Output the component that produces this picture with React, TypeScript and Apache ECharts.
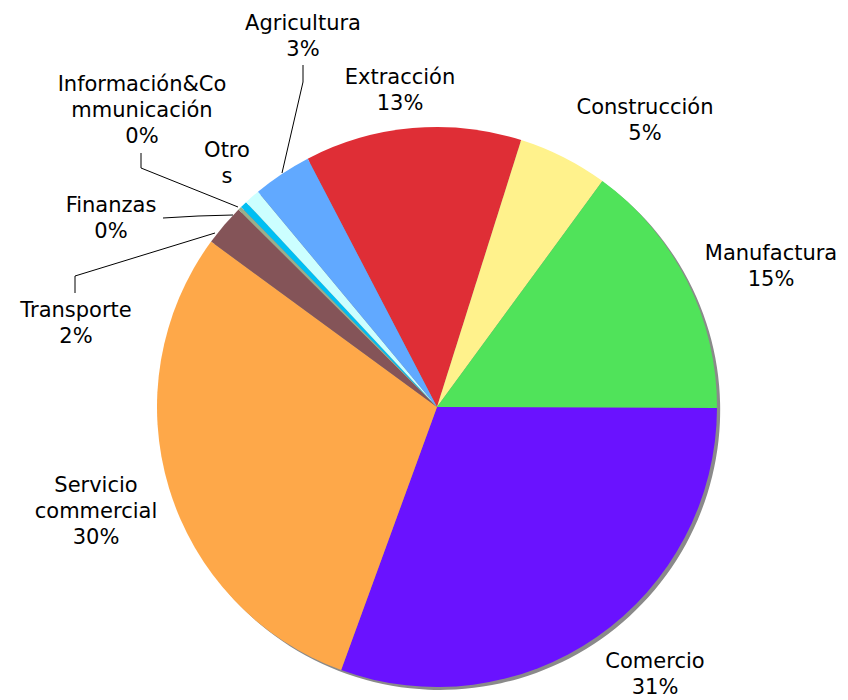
import React, { useEffect, useRef } from "react";
import * as echarts from "echarts";

const categories = [
  "Extracción",
  "Construcción",
  "Manufactura",
  "Comercio",
  "Servicio commercial",
  "Transporte",
  "Finanzas",
  "Información&Communicación",
  "Otros",
  "Agricultura",
];
const displayNames = [
  "Extracción",
  "Construcción",
  "Manufactura",
  "Comercio",
  "Servicio\ncommercial",
  "Transporte",
  "Finanzas",
  "Información&Co\nmmunicación",
  "Otro\ns",
  "Agricultura",
];
const values = [12.5, 5.2, 15.0, 30.5, 29.5, 2.4, 0.2, 0.4, 0.9, 3.4];
const showPercent = [true, true, true, true, true, true, true, true, false, true];

const colors = [
  "#DF2E36",
  "#FFF28C",
  "#50E35A",
  "#6A12FF",
  "#FEA849",
  "#845458",
  "#9AAE8A",
  "#00BFF3",
  "#CCFFFF",
  "#61A9FF",
];

// label layout (positions of label block centres, leader lines)
const labelPos: Record<string, [number, number]> = {
  "Extracción": [400, 90],
  "Construcción": [645, 120],
  "Manufactura": [771, 266],
  "Comercio": [655, 674],
  "Servicio commercial": [96, 511],
  "Transporte": [76, 323],
  "Finanzas": [111, 218],
  "Información&Communicación": [142, 110],
  "Otros": [227, 163],
  "Agricultura": [303, 36],
};
const leaderLines: Record<string, number[][]> = {
  "Transporte": [[215, 233], [75, 276], [75, 293]],
  "Finanzas": [[233, 215], [198, 216], [163, 218]],
  "Información&Communicación": [[238, 207], [141, 168], [141, 153]],
  "Agricultura": [[282, 173], [303, 82], [303, 65]],
};

export default function App() {
  const ref = useRef<HTMLDivElement>(null);
  useEffect(() => {
    if (!ref.current) return;
    const chart = echarts.init(ref.current, null, { renderer: "svg" });
    const total = Math.round(values.reduce((a, b) => a + b, 0) * 10) / 10;
    const data = categories.map((name, i) => ({
      name,
      value: values[i],
      itemStyle: { color: colors[i] },
      labelLine: { show: !!leaderLines[name] },
    }));
    chart.setOption({
      animation: false,
      backgroundColor: "#ffffff",
      series: [
        {
          type: "pie",
          name: "shadow",
          silent: true,
          z: 1,
          center: [440, 410],
          radius: 280,
          startAngle: 117.5,
          label: { show: false },
          labelLine: { show: false },
          data: [{ value: total, name: "", itemStyle: { color: "#8a8a8a" } }],
        },
        {
          type: "pie",
          z: 2,
          center: [437, 407],
          radius: 280,
          startAngle: 117.5,
          clockwise: true,
          avoidLabelOverlap: false,
          data,
          label: {
            show: true,
            position: "outside",
            fontFamily: "DejaVu Sans",
            fontSize: 21,
            lineHeight: 26,
            color: "#000000",
            align: "center",
            formatter: (p: any) => {
              const i = p.dataIndex;
              const pct = Math.round((values[i] * 100) / total);
              return showPercent[i] ? `${displayNames[i]}\n${pct}%` : displayNames[i];
            },
          },
          labelLine: {
            show: true,
            lineStyle: { color: "#000000", width: 1 },
            length: 10,
            length2: 10,
          },
          labelLayout: (params: any) => {
            const name = categories[params.dataIndex];
            const pos = labelPos[name];
            const res: any = {
              x: pos[0],
              y: pos[1],
              align: "center",
              verticalAlign: "middle",
            };
            if (leaderLines[name]) res.labelLinePoints = leaderLines[name];
            return res;
          },
        },
      ],
    });
    return () => chart.dispose();
  }, []);
  return (
    <div
      ref={ref}
      style={{ position: "absolute", left: 0, top: 0, width: 848, height: 700 }}
    />
  );
}
